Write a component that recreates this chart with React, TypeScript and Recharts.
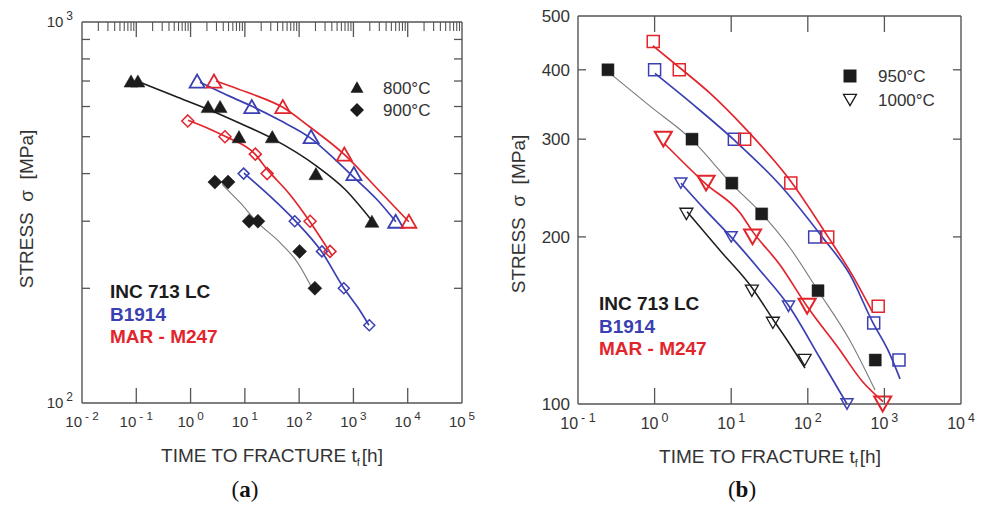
import React from 'react';
import { ComposedChart, Line, Scatter, XAxis, YAxis } from 'recharts';

// [time to fracture (h), stress (MPa)]
// panel (a): 800 °C (triangles) and 900 °C (diamonds)
const aInc800 = [[0.08, 700], [0.107, 700], [2.1, 600], [3.5, 600], [7.8, 500], [32, 500], [204, 400], [2190, 300]];
const aB800 = [[1.32, 700], [13.4, 600], [166, 500], [1020, 400], [6000, 300]];
const aMar800 = [[2.7, 700], [50, 600], [680, 450], [10500, 300]];
const aInc900 = [[2.8, 380], [4.9, 380], [12, 300], [17.4, 300], [102, 250], [195, 200]];
const aB900 = [[9.5, 400], [83, 300], [263, 250], [665, 200], [1960, 160]];
const aMar900 = [[0.89, 550], [4.3, 500], [15.6, 450], [25.7, 400], [159, 300], [371, 250]];

// fitted curves in (a)
const aInc800Fit = [[0.117, 695], [0.52, 638], [2.09, 590], [8.1, 542], [31.6, 495], [213, 418], [697, 364], [2190, 301]];
const aB800Fit = [[1.49, 695], [5.3, 638], [13.5, 601], [44, 552], [165, 495], [456, 436], [1020, 391], [2710, 342], [6070, 299]];
const aMar800Fit = [[2.94, 700], [5.3, 679], [13.5, 647], [50, 597], [158, 530], [668, 450], [3080, 359], [10500, 299]];
const aInc900Fit = [[3.8, 375], [8.1, 336], [16.7, 299], [44, 264], [91, 235], [180, 198]];
const aB900Fit = [[9.6, 401], [29, 349], [84, 301], [263, 249], [668, 200], [1210, 178], [1930, 160]];
const aMar900Fit = [[0.9, 552], [2.28, 523], [4.3, 501], [15.4, 450], [25.5, 411], [68, 352], [158, 299], [402, 244]];

// panel (b): 950 °C (squares) and 1000 °C (down triangles)
const bInc950 = [[0.246, 400], [3.08, 300], [10.2, 250], [25, 220], [136, 160], [760, 120]];
const bB950 = [[1.0, 400], [11, 300], [123, 200], [725, 140], [1550, 120]];
const bMar950 = [[0.96, 450], [2.1, 400], [15, 300], [60, 250], [182, 200], [830, 150]];
const bInc1000 = [[2.6, 220], [18.6, 160], [35, 140], [91, 120]];
const bB1000 = [[2.2, 250], [10, 200], [56, 150], [325, 100]];
const bMar1000 = [[1.3, 300], [4.7, 250], [19, 200], [98, 150], [950, 100]];

const bInc950Fit = [[0.262, 394], [0.871, 344], [3.08, 299], [10.2, 249], [25.2, 220], [58.6, 191], [136, 160], [356, 130], [754, 106]];
const bB950Fit = [[1.01, 394], [3.37, 344], [10.9, 299], [43.4, 248], [158, 199], [355, 171], [710, 140], [1115, 125], [1600, 111]];
const bMar950Fit = [[0.95, 442], [2.15, 403], [5.28, 363], [15.1, 314], [58.6, 253], [184, 200], [378, 171], [689, 147]];
const bInc1000Fit = [[2.65, 222], [7.15, 189], [18.7, 162], [35.2, 142], [58.6, 128], [92, 116]];
const bB1000Fit = [[2.21, 250], [4.55, 224], [9.94, 200], [23.8, 174], [56.9, 150], [144, 121], [325, 100]];
const bMar1000Fit = [[1.33, 295], [4.69, 249], [13, 221], [19.3, 204], [43.4, 178], [97.7, 150], [263, 125], [510, 110], [960, 101]];

// axis ticks
const aXTicks = [0.01, 0.1, 1, 10, 100, 1000, 10000, 100000];
const aYTicks = [100, 200, 300, 400, 500, 600, 700, 800, 900, 1000];
const bXTicks = [0.1, 1, 10, 100, 1000, 10000];
const bYTicks = [100, 200, 300, 400, 500];
const minorSteps = [2, 3, 4, 5, 6, 7, 8, 9];
const aXMinor = aXTicks.slice(0, -1).flatMap((d) => minorSteps.map((m) => d * m));

const BLACK = '#1c1c1c';
const GRAY = '#7a7a7a';
const BLUE = '#3a40b2';
const RED = '#e2252d';
const AXIS = '#555';
const TXT = '#333';
const SANS = '"Liberation Sans", Arial, Helvetica, sans-serif';
const SERIF = '"Liberation Serif", "Times New Roman", serif';

// plot boxes (page px), matching the chart margins below; ox = chart's left offset on the page
const boxA = { ox: 0, left: 82, right: 462, top: 22, bottom: 403, xmin: 0.01, xmax: 100000 };
const boxB = { ox: 490, left: 88, right: 471, top: 16, bottom: 404, xmin: 0.1, xmax: 10000 };

const pts = (arr: number[][]) => arr.map(([t, s]) => ({ t, s }));
const isDecade = (v: number) => Math.abs(Math.log10(v) - Math.round(Math.log10(v))) < 1e-6;
// tick anchors inside the plot: the scale gives the position along the axis
const alongX = (ticks: number[], s: number) => ticks.map((t) => ({ t, s }));
const alongY = (ticks: number[], t: number) => ticks.map((s) => ({ t, s }));

function markerPath(kind: string, cx: number, cy: number, w: number) {
  const h = w / 2;
  const ht = w * 0.87;
  switch (kind) {
    case 'tri':
      return `M${cx - h},${cy + ht / 2}L${cx + h},${cy + ht / 2}L${cx},${cy - ht / 2}Z`;
    case 'itri':
      return `M${cx - h},${cy - ht / 2}L${cx + h},${cy - ht / 2}L${cx},${cy + ht / 2}Z`;
    case 'dia':
      return `M${cx},${cy - h}L${cx + h},${cy}L${cx},${cy + h}L${cx - h},${cy}Z`;
    default:
      return `M${cx - h},${cy - h}h${w}v${w}h${-w}Z`;
  }
}

const mk = (kind: string, color: string, w: number, filled: boolean, sw = 1.6) => (p: any) => (
  <path
    d={markerPath(kind, p.cx, p.cy, w)}
    fill={filled ? color : 'none'}
    stroke={color}
    strokeWidth={filled ? 0.5 : sw}
  />
);

// short inward minor ticks on the top edge
const topMinorTick = (box: any, len: number) => (p: any) => (
  <line x1={p.cx} y1={box.top} x2={p.cx} y2={box.top + len} stroke={AXIS} strokeWidth={1.1} />
);
// inward stress ticks, left and right edges
const yTickMarks = (box: any, len: number) => (p: any) => (
  <g stroke={AXIS} strokeWidth={1.3}>
    <line x1={box.left} y1={p.cy} x2={box.left + len} y2={p.cy} />
    <line x1={box.right} y1={p.cy} x2={box.right - len} y2={p.cy} />
  </g>
);

function BottomLabel(props: any) {
  const { x, payload, fs, edge, gap } = props;
  const e = Math.round(Math.log10(payload.value));
  return (
    <text x={x} y={edge + gap} textAnchor="middle" fill={TXT} stroke="none" fontSize={fs} fontFamily={SANS}>
      <tspan>10</tspan>
      <tspan dx={3} dy={-7} fontSize={fs * 0.78}>{e < 0 ? `- ${-e}` : String(e)}</tspan>
    </text>
  );
}

function LeftLabelA(props: any) {
  const { y, payload, edge } = props;
  if (!isDecade(payload.value)) return null;
  return (
    <text x={edge - 9} y={y + 5} textAnchor="end" fill={TXT} stroke="none" fontSize={15} fontFamily={SANS}>
      <tspan>10</tspan>
      <tspan dx={3} dy={-7} fontSize={12}>{String(Math.round(Math.log10(payload.value)))}</tspan>
    </text>
  );
}

function LeftLabelB(props: any) {
  const { y, payload, edge } = props;
  return (
    <text x={edge - 8} y={y + 6} textAnchor="end" fill={TXT} stroke="none" fontSize={17} fontFamily={SANS}>
      {payload.value}
    </text>
  );
}

function ChartA() {
  const xd: [number, number] = [boxA.xmin, boxA.xmax];
  const yd: [number, number] = [100, 1000];
  return (
    <ComposedChart width={480} height={510} margin={{ top: 12, right: 8, bottom: 77, left: 32 }}>
      <XAxis dataKey="t" type="number" scale="log" domain={xd} ticks={aXTicks} interval={0}
        height={30} tickLine={false} stroke={AXIS} strokeWidth={1.4}
        tick={(p: any) => <BottomLabel {...p} fs={15} edge={boxA.bottom} gap={24} />} />
      <XAxis xAxisId="top" orientation="top" type="number" scale="log" domain={xd} ticks={aXTicks}
        height={10} tickLine={false} tick={false} stroke={AXIS} strokeWidth={1.4} />
      <YAxis dataKey="s" type="number" scale="log" domain={yd} ticks={aYTicks} interval={0}
        width={50} tickLine={false} stroke={AXIS} strokeWidth={1.4}
        tick={(p: any) => <LeftLabelA {...p} edge={boxA.left} />} />
      <YAxis yAxisId="r" orientation="right" type="number" scale="log" domain={yd} ticks={aYTicks}
        width={10} tickLine={false} tick={false} stroke={AXIS} strokeWidth={1.4} />

      <Scatter data={alongX(aXMinor, 300)} dataKey="s" shape={topMinorTick(boxA, 9)} isAnimationActive={false} />
      <Scatter data={alongY(aYTicks.slice(1, -1), 10)} dataKey="s" shape={yTickMarks(boxA, 8)} isAnimationActive={false} />

      <Line data={pts(aInc800Fit)} dataKey="s" type="monotone" stroke={BLACK} strokeWidth={1.6} dot={false} isAnimationActive={false} />
      <Line data={pts(aB800Fit)} dataKey="s" type="monotone" stroke={BLUE} strokeWidth={1.7} dot={false} isAnimationActive={false} />
      <Line data={pts(aMar800Fit)} dataKey="s" type="monotone" stroke={RED} strokeWidth={1.7} dot={false} isAnimationActive={false} />
      <Line data={pts(aInc900Fit)} dataKey="s" type="monotone" stroke={GRAY} strokeWidth={1.1} dot={false} isAnimationActive={false} />
      <Line data={pts(aB900Fit)} dataKey="s" type="monotone" stroke={BLUE} strokeWidth={1.7} dot={false} isAnimationActive={false} />
      <Line data={pts(aMar900Fit)} dataKey="s" type="monotone" stroke={RED} strokeWidth={1.7} dot={false} isAnimationActive={false} />

      <Scatter data={pts(aInc800)} dataKey="s" shape={mk('tri', BLACK, 14, true)} isAnimationActive={false} />
      <Scatter data={pts(aB800)} dataKey="s" shape={mk('tri', BLUE, 15, false, 1.8)} isAnimationActive={false} />
      <Scatter data={pts(aMar800)} dataKey="s" shape={mk('tri', RED, 15, false, 1.8)} isAnimationActive={false} />
      <Scatter data={pts(aInc900)} dataKey="s" shape={mk('dia', BLACK, 14, true)} isAnimationActive={false} />
      <Scatter data={pts(aB900)} dataKey="s" shape={mk('dia', BLUE, 11, false, 1.5)} isAnimationActive={false} />
      <Scatter data={pts(aMar900)} dataKey="s" shape={mk('dia', RED, 12, false, 1.5)} isAnimationActive={false} />
    </ComposedChart>
  );
}

function ChartB() {
  const xd: [number, number] = [boxB.xmin, boxB.xmax];
  const yd: [number, number] = [100, 500];
  const local = { ...boxB, left: boxB.left, right: boxB.right };
  return (
    <ComposedChart width={495} height={510} margin={{ top: 6, right: 14, bottom: 76, left: 38 }}>
      <XAxis dataKey="t" type="number" scale="log" domain={xd} ticks={bXTicks} interval={0}
        height={30} tickLine={false} stroke={AXIS} strokeWidth={1.4}
        tick={(p: any) => <BottomLabel {...p} fs={16} edge={boxB.bottom} gap={25} />} />
      <XAxis xAxisId="top" orientation="top" type="number" scale="log" domain={xd} ticks={bXTicks}
        height={10} tickLine={false} tick={false} stroke={AXIS} strokeWidth={1.4} />
      <YAxis dataKey="s" type="number" scale="log" domain={yd} ticks={bYTicks} interval={0}
        width={50} tickLine={false} stroke={AXIS} strokeWidth={1.4}
        tick={(p: any) => <LeftLabelB {...p} edge={boxB.left} />} />
      <YAxis yAxisId="r" orientation="right" type="number" scale="log" domain={yd} ticks={bYTicks}
        width={10} tickLine={false} tick={false} stroke={AXIS} strokeWidth={1.4} />

      <Scatter data={alongY(bYTicks.slice(1, -1), 3)} dataKey="s" shape={yTickMarks(local, 8)} isAnimationActive={false} />

      <Line data={pts(bInc950Fit)} dataKey="s" type="monotone" stroke={GRAY} strokeWidth={1.1} dot={false} isAnimationActive={false} />
      <Line data={pts(bB950Fit)} dataKey="s" type="monotone" stroke={BLUE} strokeWidth={1.7} dot={false} isAnimationActive={false} />
      <Line data={pts(bMar950Fit)} dataKey="s" type="monotone" stroke={RED} strokeWidth={1.7} dot={false} isAnimationActive={false} />
      <Line data={pts(bInc1000Fit)} dataKey="s" type="monotone" stroke={BLACK} strokeWidth={1.5} dot={false} isAnimationActive={false} />
      <Line data={pts(bB1000Fit)} dataKey="s" type="monotone" stroke={BLUE} strokeWidth={1.7} dot={false} isAnimationActive={false} />
      <Line data={pts(bMar1000Fit)} dataKey="s" type="monotone" stroke={RED} strokeWidth={1.7} dot={false} isAnimationActive={false} />

      <Scatter data={pts(bInc950)} dataKey="s" shape={mk('sq', BLACK, 12, true)} isAnimationActive={false} />
      <Scatter data={pts(bB950)} dataKey="s" shape={mk('sq', BLUE, 12, false, 1.5)} isAnimationActive={false} />
      <Scatter data={pts(bMar950)} dataKey="s" shape={mk('sq', RED, 12, false, 1.5)} isAnimationActive={false} />
      <Scatter data={pts(bInc1000)} dataKey="s" shape={mk('itri', BLACK, 13, false, 1.3)} isAnimationActive={false} />
      <Scatter data={pts(bB1000)} dataKey="s" shape={mk('itri', BLUE, 12, false, 1.5)} isAnimationActive={false} />
      <Scatter data={pts(bMar1000)} dataKey="s" shape={mk('itri', RED, 17, false, 2)} isAnimationActive={false} />
    </ComposedChart>
  );
}

// long decade ticks on the top and bottom edges, laid out on the same log mapping as the x axes
function DecadeTicks({ box, ticks, len }: any) {
  const span = Math.log10(box.xmax) - Math.log10(box.xmin);
  return (
    <g stroke={AXIS} strokeWidth={1.3}>
      {ticks.slice(1, -1).map((t: number) => {
        const x = box.ox + box.left + ((Math.log10(t) - Math.log10(box.xmin)) / span) * (box.right - box.left);
        return (
          <g key={t}>
            <line x1={x} y1={box.top} x2={x} y2={box.top + len} />
            <line x1={x} y1={box.bottom} x2={x} y2={box.bottom - len} />
          </g>
        );
      })}
    </g>
  );
}

function Overlay() {
  const xTitle = (cx: number, y: number) => (
    <text x={cx} y={y} textAnchor="middle" fill={TXT} fontSize={19} fontFamily={SANS}>
      TIME TO FRACTURE t<tspan dy={4} fontSize={11}>f</tspan><tspan dy={-4} dx={2}>[h]</tspan>
    </text>
  );
  const yTitle = (x: number, cy: number) => (
    <text x={x} y={cy} textAnchor="middle" fill={TXT} fontSize={19} fontFamily={SANS}
      transform={`rotate(-90 ${x} ${cy})`} style={{ whiteSpace: 'pre' }}>
      {'STRESS  σ  [MPa]'}
    </text>
  );
  const alloys = (x: number, y0: number) => (
    <g fontFamily={SANS} fontWeight="bold" fontSize={19}>
      <text x={x} y={y0} fill={BLACK}>INC 713 LC</text>
      <text x={x} y={y0 + 23} fill={BLUE}>B1914</text>
      <text x={x} y={y0 + 45} fill={RED}>MAR - M247</text>
    </g>
  );
  const caption = (cx: number, letter: string) => (
    <text x={cx} y={497} textAnchor="middle" fill="#111" fontSize={23} fontFamily={SERIF}>
      (<tspan fontWeight="bold">{letter}</tspan>)
    </text>
  );
  return (
    <svg width={985} height={510} style={{ position: 'absolute', left: 0, top: 0, pointerEvents: 'none' }}>
      <DecadeTicks box={boxA} ticks={aXTicks} len={15} />
      <DecadeTicks box={boxB} ticks={bXTicks} len={16} />

      {/* panel (a) */}
      <path d={markerPath('tri', 357, 87, 13)} fill={BLACK} />
      <path d={markerPath('dia', 357, 110, 14)} fill={BLACK} />
      <text x={383} y={94} fill={TXT} fontSize={17} fontFamily={SANS}>800°C</text>
      <text x={383} y={116} fill={TXT} fontSize={17} fontFamily={SANS}>900°C</text>
      {alloys(110, 298)}
      {yTitle(33, 209)}
      {xTitle(272, 462)}
      {caption(245, 'a')}

      {/* panel (b) */}
      <path d={markerPath('sq', 850, 76, 13)} fill={BLACK} />
      <path d={markerPath('itri', 850, 100, 13)} fill="none" stroke={BLACK} strokeWidth={1.3} />
      <text x={878} y={82} fill={TXT} fontSize={17} fontFamily={SANS}>950°C</text>
      <text x={878} y={106} fill={TXT} fontSize={17} fontFamily={SANS}>1000°C</text>
      {alloys(599, 310)}
      {yTitle(525, 214)}
      {xTitle(770, 463)}
      {caption(742, 'b')}
    </svg>
  );
}

export default function App() {
  return (
    <div style={{ position: 'absolute', left: 0, top: 0, width: 985, height: 510, background: '#fff', fontFamily: SANS }}>
      <div style={{ position: 'absolute', left: 0, top: 0 }}>
        <ChartA />
      </div>
      <div style={{ position: 'absolute', left: 490, top: 0 }}>
        <ChartB />
      </div>
      <Overlay />
    </div>
  );
}
